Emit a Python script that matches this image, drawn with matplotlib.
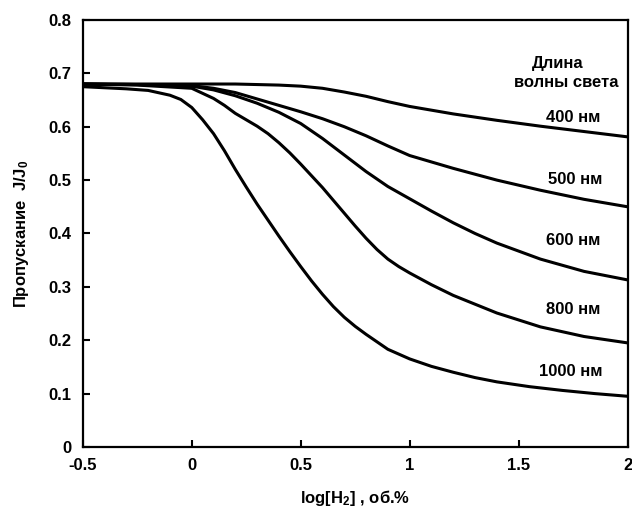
import matplotlib
matplotlib.use("Agg")
import matplotlib.pyplot as plt

plt.rcParams['font.family'] = ['Liberation Sans', 'DejaVu Sans']
plt.rcParams['font.weight'] = 'bold'
plt.rcParams['mathtext.fontset'] = 'custom'
plt.rcParams['mathtext.rm'] = 'Liberation Sans:bold'
plt.rcParams['mathtext.it'] = 'Liberation Sans:bold'
plt.rcParams['mathtext.bf'] = 'Liberation Sans:bold'

# Data
x_400 = [-0.5, -0.25, 0.0, 0.2, 0.4, 0.5, 0.6, 0.7, 0.8, 0.9, 1.0, 1.2, 1.4, 1.6, 1.8, 2.0]
y_400 = [0.680, 0.680, 0.680, 0.680, 0.678, 0.676, 0.672, 0.665, 0.657, 0.647, 0.638, 0.624, 0.612, 0.601, 0.591, 0.581]

x_500 = [-0.5, -0.25, 0.0, 0.1, 0.2, 0.3, 0.4, 0.5, 0.6, 0.7, 0.8, 0.9, 1.0, 1.2, 1.4, 1.6, 1.8, 2.0]
y_500 = [0.680, 0.679, 0.677, 0.672, 0.664, 0.652, 0.640, 0.628, 0.615, 0.600, 0.583, 0.564, 0.546, 0.522, 0.500, 0.481, 0.464, 0.450]

x_600 = [-0.5, -0.25, 0.0, 0.1, 0.2, 0.3, 0.4, 0.5, 0.6, 0.7, 0.8, 0.9, 1.0, 1.1, 1.2, 1.3, 1.4, 1.6, 1.8, 2.0]
y_600 = [0.680, 0.679, 0.676, 0.669, 0.658, 0.644, 0.627, 0.606, 0.578, 0.547, 0.516, 0.488, 0.465, 0.442, 0.420, 0.400, 0.382, 0.352, 0.329, 0.313]

x_800 = [-0.5, -0.25, 0.0, 0.1, 0.15, 0.2, 0.25, 0.3, 0.35, 0.4, 0.45, 0.5, 0.55, 0.6, 0.65, 0.7, 0.75, 0.8,
         0.85, 0.9, 0.95, 1.0, 1.1, 1.2, 1.4, 1.6, 1.8, 2.0]
y_800 = [0.680, 0.678, 0.672, 0.653, 0.640, 0.625, 0.613, 0.601, 0.587, 0.570, 0.551, 0.530, 0.508, 0.486, 0.462,
         0.438, 0.414, 0.391, 0.370, 0.352, 0.338, 0.326, 0.304, 0.284, 0.251, 0.225, 0.207, 0.195]

x_1000 = [-0.5, -0.3, -0.2, -0.1, -0.05, 0.0, 0.05, 0.1, 0.15, 0.2, 0.25, 0.3, 0.35, 0.4, 0.45, 0.5, 0.55, 0.6,
          0.65, 0.7, 0.75, 0.8, 0.9, 1.0, 1.1, 1.2, 1.3, 1.4, 1.55, 1.7, 1.85, 2.0]
y_1000 = [0.675, 0.671, 0.668, 0.659, 0.651, 0.636, 0.613, 0.587, 0.555, 0.520, 0.487, 0.455, 0.425, 0.395, 0.366,
          0.338, 0.311, 0.286, 0.263, 0.243, 0.226, 0.211, 0.183, 0.165, 0.151, 0.140, 0.130, 0.122, 0.113, 0.106,
          0.100, 0.095]

labels = ["400 нм", "500 нм", "600 нм", "800 нм", "1000 нм"]
label_pos_x = [1.75, 1.76, 1.75, 1.75, 1.74]
label_pos_y = [0.617, 0.501, 0.386, 0.257, 0.141]

x_ticks = [-0.5, 0, 0.5, 1, 1.5, 2]
x_ticklabels = ["-0.5", "0", "0.5", "1", "1.5", "2"]
y_ticks = [0, 0.1, 0.2, 0.3, 0.4, 0.5, 0.6, 0.7, 0.8]
y_ticklabels = ["0", "0.1", "0.2", "0.3", "0.4", "0.5", "0.6", "0.7", "0.8"]

fig = plt.figure(figsize=(6.32, 5.12), dpi=100)
ax = fig.add_axes([0.131, 0.127, 0.862, 0.834])

lw = 2.2
for xs, ys in [(x_400, y_400), (x_500, y_500), (x_600, y_600), (x_800, y_800), (x_1000, y_1000)]:
    ax.plot(xs, ys, color='black', lw=lw, solid_joinstyle='round', solid_capstyle='round')

fs = 12
for t, lx, ly in zip(labels, label_pos_x, label_pos_y):
    ax.text(lx, ly, t, ha='center', va='center', fontsize=fs, fontweight='bold')

ax.text(1.68, 0.719, "Длина", ha='center', va='center', fontsize=fs, fontweight='bold')
ax.text(1.72, 0.682, "волны света", ha='center', va='center', fontsize=fs, fontweight='bold')

ax.set_xlim(-0.5, 2)
ax.set_ylim(0, 0.8)
ax.set_xticks(x_ticks)
ax.set_xticklabels(x_ticklabels)
ax.set_yticks(y_ticks)
ax.set_yticklabels(y_ticklabels)
ax.tick_params(direction='in', length=5, width=1.5, labelsize=fs, pad=8)
for lab in ax.get_xticklabels() + ax.get_yticklabels():
    lab.set_fontweight('bold')
for sp in ax.spines.values():
    sp.set_linewidth(1.6)

ax.set_xlabel(r"log[H$_2$] , об.%", fontsize=fs, fontweight='bold', labelpad=11)
ax.set_ylabel(r"Пропускание  J/J$_0$", fontsize=fs, fontweight='bold', labelpad=13)

fig.savefig("out.png", dpi=100)
